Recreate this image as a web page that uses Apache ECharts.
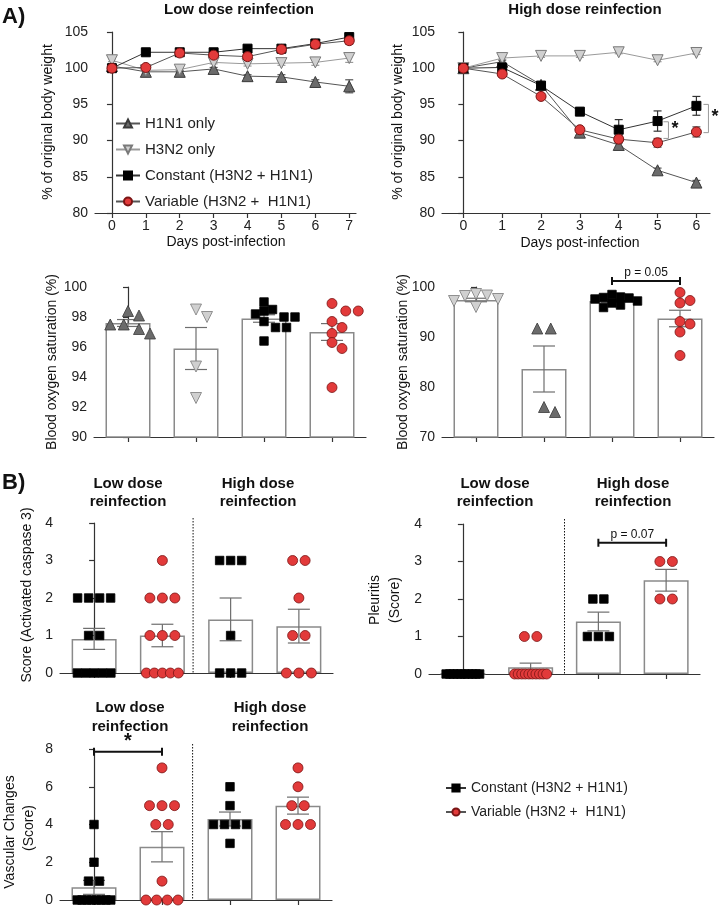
<!DOCTYPE html>
<html>
<head>
<meta charset="utf-8">
<script src="https://cdn.jsdelivr.net/npm/echarts@6/dist/echarts.min.js"></script>
<style>
html,body{margin:0;padding:0;background:#fff;}
#main{width:720px;height:909px;}
</style>
</head>
<body>
<div id="main"></div>
<script>
// ---------- data ----------
var daysLow = [0, 1, 2, 3, 4, 5, 6, 7];
var daysHigh = [0, 1, 2, 3, 4, 5, 6];

// body weight, low dose
var lowH1N1 = [100.3, 99.5, 99.5, 99.9, 98.9, 98.8, 98.1, 97.5];
var lowH1N1Sem = [0.3, 0.2, 0.2, 0.2, 0.2, 0.3, 0.3, 0.9];
var lowH3N2 = [101.1, 99.7, 99.8, 100.8, 100.6, 100.7, 100.8, 101.4];
var lowH3N2Sem = [0.2, 0.2, 0.2, 0.2, 0.3, 0.3, 0.4, 0.6];
var lowConst = [100, 102.2, 102.2, 102.2, 102.7, 102.7, 103.4, 104.3];
var lowConstSem = [0, 0.2, 0.2, 0.3, 0.2, 0.4, 0.6, 0.3];
var lowVar = [100, 100.1, 102.1, 101.8, 101.6, 102.6, 103.3, 103.8];
var lowVarSem = [0, 0.2, 0.3, 0.4, 0.3, 0.5, 0.6, 0.5];

// body weight, high dose
var highH1N1 = [100, 100.9, 97.7, 91.1, 89.4, 85.9, 84.2];
var highH1N1Sem = [0, 0.2, 0.3, 0.3, 0.3, 0.3, 0.3];
var highH3N2 = [100, 101.4, 101.7, 101.7, 102.2, 101.1, 102.1];
var highH3N2Sem = [0, 0.2, 0.2, 0.2, 0.2, 0.2, 0.2];
var highConst = [100, 100.1, 97.6, 94.0, 91.5, 92.7, 94.8];
var highConstSem = [0, 0.4, 0.3, 0.5, 1.4, 1.4, 1.3];
var highVar = [100, 99.2, 96.1, 91.5, 90.2, 89.7, 91.2];
var highVarSem = [0, 0.4, 0.3, 0.4, 0.5, 0.6, 0.7];

// blood oxygen saturation (%)
var o2LowH1N1 = [98.4, 98.1, 97.5, 97.5, 97.2, 96.9];
var o2LowH3N2 = [98.5, 98.0, 94.7, 92.6];
var o2LowConst = [99.0, 98.5, 98.4, 98.2, 98.0, 98.0, 97.7, 97.3, 97.3, 96.4];
var o2LowVar = [98.9, 98.4, 98.4, 97.7, 97.3, 96.9, 96.3, 95.9, 93.3];
var o2LowMean = [97.6, 95.9, 97.9, 97.0];
var o2LowSem = [0.23, 1.4, 0.25, 0.56];

var o2HighH3N2 = [98.6, 98.3, 98.2, 97.6, 97.2, 96.0];
var o2HighH1N1 = [91.7, 91.7, 76.0, 75.0];
var o2HighConst = [98.5, 98.0, 97.9, 97.8, 97.6, 97.2, 96.8, 96.4, 95.9];
var o2HighVar = [98.9, 97.3, 96.8, 93.1, 92.6, 91.0, 86.3];
var o2HighMean = [97.4, 83.6, 97.2, 93.7];
var o2HighSem = [0.35, 4.6, 0.3, 1.65];

// activated caspase 3 score
var casLowConst = [2, 2, 2, 2, 1, 1, 0, 0, 0, 0, 0];
var casLowVar = [3, 2, 2, 2, 1, 1, 1, 0, 0, 0, 0, 0];
var casHighConst = [3, 3, 3, 1, 0, 0, 0];
var casHighVar = [3, 3, 2, 1, 1, 0, 0, 0];
var casMean = [0.91, 1.0, 1.43, 1.25];
var casSem = [0.28, 0.3, 0.57, 0.45];

// pleuritis score
var pleLowConst = [0, 0, 0, 0, 0, 0, 0, 0, 0, 0];
var pleLowVar = [1, 1, 0, 0, 0, 0, 0, 0, 0, 0, 0, 0];
var pleHighConst = [2, 2, 1, 1, 1];
var pleHighVar = [3, 3, 2, 2];
var pleMean = [0, 0.18, 1.4, 2.5];
var pleSem = [0, 0.11, 0.25, 0.29];

// vascular changes score
var vasLowConst = [4, 2, 1, 1, 0, 0, 0, 0, 0, 0, 0, 0];
var vasLowVar = [7, 5, 5, 5, 4, 4, 1, 0, 0, 0, 0];
var vasHighConst = [6, 5, 4, 4, 4, 4, 3];
var vasHighVar = [7, 6, 5, 5, 4, 4, 4];
var vasMean = [0.67, 2.82, 4.29, 5.0];
var vasSem = [0.37, 0.8, 0.37, 0.45];

var NAME_H1 = 'H1N1 only';
var NAME_H3 = 'H3N2 only';
var NAME_C = 'Constant (H3N2 + H1N1)';
var NAME_V = 'Variable (H3N2 +  H1N1)';

// ---------- layout / style ----------
var FONT = "'Liberation Sans', Arial, Helvetica, sans-serif";
var TRI_DOWN = 'path://M0,0L10,0L5,9Z';

var grids = [
  {left: 95, top: 32, width: 261, height: 181},   // weight low
  {left: 442, top: 32, width: 268, height: 181},  // weight high
  {left: 94, top: 287, width: 272, height: 150},  // o2 low
  {left: 442, top: 287, width: 272, height: 150}, // o2 high
  {left: 60, top: 523, width: 273, height: 150},  // caspase
  {left: 429, top: 524, width: 271, height: 150}, // pleuritis
  {left: 60, top: 749, width: 272, height: 151}   // vascular
];
var yRanges = [[80, 105, 5], [80, 105, 5], [90, 100, 2], [70, 100, 10], [0, 4, 1], [0, 4, 1], [0, 8, 2]];

var STY = {
  h1: {symbol: 'triangle', size: 11, color: '#6b6b6b', border: '#3a3a3a', line: '#555'},
  h3: {symbol: TRI_DOWN, size: 11, color: '#d0d0d0', border: '#7a7a7a', line: '#9a9a9a'},
  c: {symbol: 'rect', size: 9, color: '#000', border: '#000', line: '#333'},
  v: {symbol: 'circle', size: 10, color: '#e23a3a', border: '#7a1414', line: '#555'}
};
var DOT = {
  h1: STY.h1, h3: STY.h3, v: STY.v,
  c: {symbol: 'rect', size: 8.5, color: '#000', border: '#000'}
};

var axisColor = '#333';

function xAxisCfg(i) {
  var base = {
    type: 'value', gridIndex: i,
    axisLine: {lineStyle: {color: axisColor, width: 1.2}},
    axisTick: {length: 5, lineStyle: {color: axisColor, width: 1.2}},
    axisLabel: {color: '#222', fontSize: 14, fontFamily: FONT, margin: 6},
    splitLine: {show: false}
  };
  if (i === 0) {
    base.min = -0.5; base.max = 7.2;
    base.axisTick.customValues = daysLow; base.axisLabel.customValues = daysLow;
  } else if (i === 1) {
    base.min = -0.55; base.max = 6.35;
    base.axisTick.customValues = daysHigh; base.axisLabel.customValues = daysHigh;
  } else {
    base.min = -0.5; base.max = 3.5;
    base.axisTick.customValues = [0, 1, 2, 3];
    base.axisLabel.show = false;
  }
  return base;
}
function yAxisCfg(i) {
  return {
    type: 'value', gridIndex: i,
    min: yRanges[i][0], max: yRanges[i][1], interval: yRanges[i][2],
    axisLine: {show: true, lineStyle: {color: axisColor, width: 1.2}},
    axisTick: {show: true, length: 5, lineStyle: {color: axisColor, width: 1.2}},
    axisLabel: {color: '#222', fontSize: 14, fontFamily: FONT, margin: 7},
    splitLine: {show: false}
  };
}

// simple beeswarm: returns pixel offsets for each value
function swarm(vals, pxPerUnit, size, maxW) {
  var out = new Array(vals.length);
  var placed = [];
  var done = {};
  for (var i = 0; i < vals.length; i++) {
    var v = vals[i];
    if (done[v]) continue;
    done[v] = true;
    var idx = [];
    for (var j = 0; j < vals.length; j++) if (vals[j] === v) idx.push(j);
    var n = idx.length;
    var step = n > 1 ? Math.min(size + 2.5, (maxW - size) / (n - 1)) : 0;
    var y = v * pxPerUnit;
    var base = idx.map(function (_, k) { return (k - (n - 1) / 2) * step; });
    var shift = 0;
    for (var k = 0; k < 40; k++) {
      var s = (k % 2 ? 1 : -1) * Math.ceil(k / 2) * size * 0.5;
      var ok = base.every(function (b) {
        return placed.every(function (p) {
          return Math.abs(p.x - (b + s)) >= size * 0.9 || Math.abs(p.y - y) >= size * 0.9;
        });
      });
      if (ok) { shift = s; break; }
    }
    base.forEach(function (b, k) {
      out[idx[k]] = b + shift;
      placed.push({x: b + shift, y: y});
    });
  }
  return out;
}

function lineErr(capPx, color) {
  return function (params, api) {
    var x = api.value(0), m = api.value(1), s = api.value(2);
    if (!s) return null;
    var t = api.coord([x, m + s]), b = api.coord([x, m - s]), h = capPx / 2;
    var st = {stroke: color, lineWidth: 1.2};
    return {type: 'group', children: [
      {type: 'line', shape: {x1: t[0], y1: t[1], x2: b[0], y2: b[1]}, style: st},
      {type: 'line', shape: {x1: t[0] - h, y1: t[1], x2: t[0] + h, y2: t[1]}, style: st},
      {type: 'line', shape: {x1: b[0] - h, y1: b[1], x2: b[0] + h, y2: b[1]}, style: st}
    ]};
  };
}

var series = [];

// ----- line panels -----
function addLine(gi, name, sty, xs, ys, ss) {
  series.push({
    type: 'custom', name: name + ' err', xAxisIndex: gi, yAxisIndex: gi, z: 3,
    renderItem: lineErr(8, sty.line),
    data: xs.map(function (x, i) { return [x, ys[i], ss[i]]; })
  });
  series.push({
    type: 'line', name: name, xAxisIndex: gi, yAxisIndex: gi, z: 4,
    symbol: sty.symbol, symbolSize: sty.size,
    lineStyle: {color: sty.line, width: 1},
    itemStyle: {color: sty.color, borderColor: sty.border, borderWidth: 1},
    data: xs.map(function (x, i) { return [x, ys[i]]; })
  });
}
addLine(0, NAME_H1, STY.h1, daysLow, lowH1N1, lowH1N1Sem);
addLine(0, NAME_H3, STY.h3, daysLow, lowH3N2, lowH3N2Sem);
addLine(0, NAME_C, STY.c, daysLow, lowConst, lowConstSem);
addLine(0, NAME_V, STY.v, daysLow, lowVar, lowVarSem);
addLine(1, NAME_H1, STY.h1, daysHigh, highH1N1, highH1N1Sem);
addLine(1, NAME_H3, STY.h3, daysHigh, highH3N2, highH3N2Sem);
addLine(1, NAME_C, STY.c, daysHigh, highConst, highConstSem);
addLine(1, NAME_V, STY.v, daysHigh, highVar, highVarSem);

// ----- bar + dot panels -----
function addBarPanel(gi, groups, styles, means, sems) {
  var g = grids[gi];
  var band = g.width / 4;
  var ppu = g.height / (yRanges[gi][1] - yRanges[gi][0]);
  series.push({
    type: 'bar', xAxisIndex: gi, yAxisIndex: gi, z: 2, barWidth: 45,
    itemStyle: {color: '#fff', borderColor: '#8a8a8a', borderWidth: 1.5},
    data: means.map(function (m, i) { return [i, m]; })
  });
  series.push({
    type: 'custom', xAxisIndex: gi, yAxisIndex: gi, z: 4,
    renderItem: lineErr(22, '#6e6e6e'),
    data: means.map(function (m, i) { return [i, m, sems[i]]; })
  });
  groups.forEach(function (vals, gIdx) {
    var sty = styles[gIdx];
    var offs = swarm(vals, ppu, sty.size, 42);
    series.push({
      type: 'scatter', xAxisIndex: gi, yAxisIndex: gi, z: 5,
      symbol: sty.symbol, symbolSize: sty.size,
      itemStyle: {color: sty.color, borderColor: sty.border, borderWidth: 0.8, opacity: 1},
      data: vals.map(function (v, k) { return [gIdx + offs[k] / band, v]; })
    });
  });
}
addBarPanel(2, [o2LowH1N1, o2LowH3N2, o2LowConst, o2LowVar], [DOT.h1, DOT.h3, DOT.c, DOT.v], o2LowMean, o2LowSem);
addBarPanel(3, [o2HighH3N2, o2HighH1N1, o2HighConst, o2HighVar], [DOT.h3, DOT.h1, DOT.c, DOT.v], o2HighMean, o2HighSem);
addBarPanel(4, [casLowConst, casLowVar, casHighConst, casHighVar], [DOT.c, DOT.v, DOT.c, DOT.v], casMean, casSem);
addBarPanel(5, [pleLowConst, pleLowVar, pleHighConst, pleHighVar], [DOT.c, DOT.v, DOT.c, DOT.v], pleMean, pleSem);
addBarPanel(6, [vasLowConst, vasLowVar, vasHighConst, vasHighVar], [DOT.c, DOT.v, DOT.c, DOT.v], vasMean, vasSem);

// dotted dividers between low / high dose groups
[[4, 1.45], [5, 1.5], [6, 1.45]].forEach(function (d) {
  var gi = d[0];
  series.push({
    type: 'custom', xAxisIndex: gi, yAxisIndex: gi, z: 3, silent: true,
    renderItem: function (params, api) {
      var t = api.coord([api.value(0), yRanges[gi][1]]), b = api.coord([api.value(0), yRanges[gi][0]]);
      return {type: 'line', shape: {x1: t[0], y1: t[1] - 5, x2: b[0], y2: b[1]},
        style: {stroke: '#111', lineWidth: 1, lineDash: [1.5, 1.5]}};
    },
    data: [[d[1]]]
  });
});

// p-value / star brackets over bars: [grid, x1, x2, y, text, fontSize, bold]
var pBrackets = [
  [3, 2, 3, 101.2, 'p = 0.05', 12, false],
  [5, 2, 3, 3.5, 'p = 0.07', 12, false],
  [6, 0, 1, 7.85, '*', 20, true]
];
pBrackets.forEach(function (p) {
  series.push({
    type: 'custom', xAxisIndex: p[0], yAxisIndex: p[0], z: 6, silent: true,
    renderItem: function (params, api) {
      var a = api.coord([api.value(0), api.value(2)]), b = api.coord([api.value(1), api.value(2)]);
      var st = {stroke: '#111', lineWidth: 2};
      return {type: 'group', children: [
        {type: 'line', shape: {x1: a[0], y1: a[1], x2: b[0], y2: b[1]}, style: st},
        {type: 'line', shape: {x1: a[0], y1: a[1] - 4, x2: a[0], y2: a[1] + 4}, style: st},
        {type: 'line', shape: {x1: b[0], y1: b[1] - 4, x2: b[0], y2: b[1] + 4}, style: st},
        {type: 'text', x: (a[0] + b[0]) / 2, y: a[1] - (p[6] ? 0 : 8),
          style: {text: p[4], fill: '#111', align: 'center', verticalAlign: p[6] ? 'bottom' : 'middle',
            font: (p[6] ? 'bold ' : '') + p[5] + 'px ' + FONT}}
      ]};
    },
    data: [[p[1], p[2], p[3]]]
  });
});

// significance brackets in the high dose weight panel: [x, yTop, yBottom]
var sigHigh = [[5.28, 92.6, 90.3], [6.31, 95.0, 91.1]];
series.push({
  type: 'custom', xAxisIndex: 1, yAxisIndex: 1, z: 6, silent: true,
  renderItem: function (params, api) {
    var t = api.coord([api.value(0), api.value(1)]), b = api.coord([api.value(0), api.value(2)]);
    var st = {stroke: '#999', lineWidth: 1};
    return {type: 'group', children: [
      {type: 'line', shape: {x1: t[0], y1: t[1], x2: b[0], y2: b[1]}, style: st},
      {type: 'line', shape: {x1: t[0] - 5, y1: t[1], x2: t[0], y2: t[1]}, style: st},
      {type: 'line', shape: {x1: b[0] - 5, y1: b[1], x2: b[0], y2: b[1]}, style: st},
      {type: 'text', x: t[0] + 3, y: (t[1] + b[1]) / 2 + 8,
        style: {text: '*', fill: '#111', align: 'left', verticalAlign: 'bottom', font: 'bold 18px ' + FONT}}
    ]};
  },
  data: sigHigh
});

// ---------- text ----------
function txt(x, y, text, size, bold, rot, align) {
  return {type: 'text', x: x, y: y, rotation: rot || 0, silent: true,
    style: {text: text, fill: '#111', align: align || 'center', verticalAlign: 'middle',
      font: (bold ? 'bold ' : '') + size + 'px ' + FONT}};
}
var R = Math.PI / 2;
var graphics = [
  txt(2, 17, 'A)', 22, true, 0, 'left'),
  txt(2, 483, 'B)', 22, true, 0, 'left'),
  txt(239, 10, 'Low dose reinfection', 15, true),
  txt(585, 10, 'High dose reinfection', 15, true),
  txt(226, 242, 'Days post-infection', 14),
  txt(580, 243, 'Days post-infection', 14),
  txt(48, 122, '% of original body weight', 14, false, R),
  txt(398, 122, '% of original body weight', 14, false, R),
  txt(52, 362, 'Blood oxygen saturation (%)', 14, false, R),
  txt(403, 362, 'Blood oxygen saturation (%)', 14, false, R),
  txt(27, 595, 'Score (Activated caspase 3)', 14, false, R),
  txt(375, 600, 'Pleuritis', 14, false, R),
  txt(395, 600, '(Score)', 14, false, R),
  txt(10, 832, 'Vascular Changes', 14, false, R),
  txt(29, 828, '(Score)', 14, false, R),
  txt(128, 484, 'Low dose', 15, true), txt(128, 502, 'reinfection', 15, true),
  txt(258, 484, 'High dose', 15, true), txt(258, 502, 'reinfection', 15, true),
  txt(495, 484, 'Low dose', 15, true), txt(495, 502, 'reinfection', 15, true),
  txt(633, 484, 'High dose', 15, true), txt(633, 502, 'reinfection', 15, true),
  txt(130, 708, 'Low dose', 15, true), txt(130, 727, 'reinfection', 15, true),
  txt(270, 708, 'High dose', 15, true), txt(270, 727, 'reinfection', 15, true)
];

var option = {
  animation: false,
  backgroundColor: '#fff',
  textStyle: {fontFamily: FONT},
  grid: grids,
  xAxis: grids.map(function (g, i) { return xAxisCfg(i); }),
  yAxis: grids.map(function (g, i) { return yAxisCfg(i); }),
  legend: [
    {
      data: [NAME_H1, NAME_H3, NAME_C, NAME_V], orient: 'vertical', left: 110, top: 111,
      itemWidth: 24, itemHeight: 10, itemGap: 11, selectedMode: false,
      textStyle: {fontSize: 15, color: '#222', fontFamily: FONT}
    },
    {
      data: [NAME_C, NAME_V], orient: 'vertical', left: 440, top: 776,
      itemWidth: 20, itemHeight: 9, itemGap: 10, selectedMode: false,
      textStyle: {fontSize: 14, color: '#222', fontFamily: FONT}
    }
  ],
  graphic: graphics,
  series: series
};

var myChart = echarts.init(document.getElementById('main'));
myChart.setOption(option);
window.addEventListener('resize', function () { myChart.resize(); });
</script>
</body>
</html>
